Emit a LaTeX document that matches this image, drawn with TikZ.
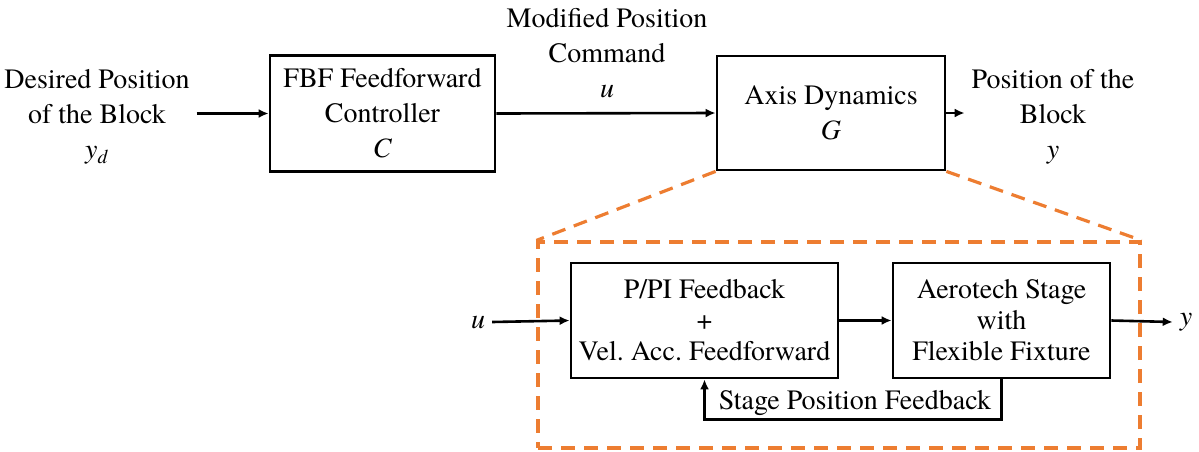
\documentclass[tikz,border=0pt]{standalone}
\usepackage{fontspec}
\setmainfont{texgyretermes}[Extension=.otf,UprightFont=*-regular,ItalicFont=*-italic,BoldFont=*-bold,BoldItalicFont=*-bolditalic]
\usetikzlibrary{arrows.meta,positioning}
\definecolor{ZoomOrange}{HTML}{ED7D31}
\frenchspacing

\begin{document}
\begin{tikzpicture}[x=0.5pt,y=-0.5pt, every node/.style={font=\fontsize{14}{17.5}\selectfont,align=center},
blk/.style={draw,line width=1.4pt,inner sep=2pt},
small/.style={font=\fontsize{14}{15.5}\selectfont},
arr/.style={-{Latex[length=5pt,width=4.5pt]},line width=1.3pt},
zoomline/.style={draw=ZoomOrange,line width=1.6pt,dash pattern=on 7pt off 4.5pt}]
\useasboundingbox (0,0) rectangle (1199,451);
% top row
\node[blk,minimum width=112.5pt,minimum height=58pt] (ctrl) at (382.5,113.5) {FBF Feedforward\\Controller\\\textit{C}};
\node[blk,minimum width=114pt,minimum height=57pt] (axis) at (831,113) {Axis Dynamics\\\textit{G}};
\node (yd) at (97,117) {Desired Position\\of the Block\\\textit{y}\textsubscript{\textit{d}}};
\node (ucmd) at (607,53) {Modified Position\\Command\\\textit{u}};
\node (yout) at (1053,117) {Position of the\\Block\\\textit{y}};
\draw[arr] (ctrl.west -| yd.east) -- (ctrl.west);
\draw[arr] (ctrl.east) -- (axis.west);
\draw[arr] (axis.east) -- (axis.east -| yout.west);
% zoomed view of G
\node[zoomline,minimum width=301pt,minimum height=103pt] (zoom) at (839,345) {};
\draw[zoomline] (axis.south west) -- (zoom.north west);
\draw[zoomline] (axis.south east) -- (zoom.north east);
\node[blk,small,minimum width=133.5pt,minimum height=57.5pt] (pi) at (704.5,320.5) {P/PI Feedback\\+\\Vel. Acc. Feedforward};
\node[blk,small,minimum width=108.5pt,minimum height=57.5pt] (stage) at (1001.5,320.5) {Aerotech Stage\\with\\Flexible Fixture};
\node (uin) at (478,322) {\textit{u}};
\node (yin) at (1186,322) {\textit{y}};
\draw[arr] (uin.east) -- (pi.west);
\draw[arr] (pi.east) -- (stage.west);
\draw[arr] (stage.east) -- (yin.west);
\draw[arr] (stage.south) -- ++(0,40) -| (pi.south);
\node[small] (fb) at (855,403) {Stage Position Feedback};
\end{tikzpicture}
\end{document}
